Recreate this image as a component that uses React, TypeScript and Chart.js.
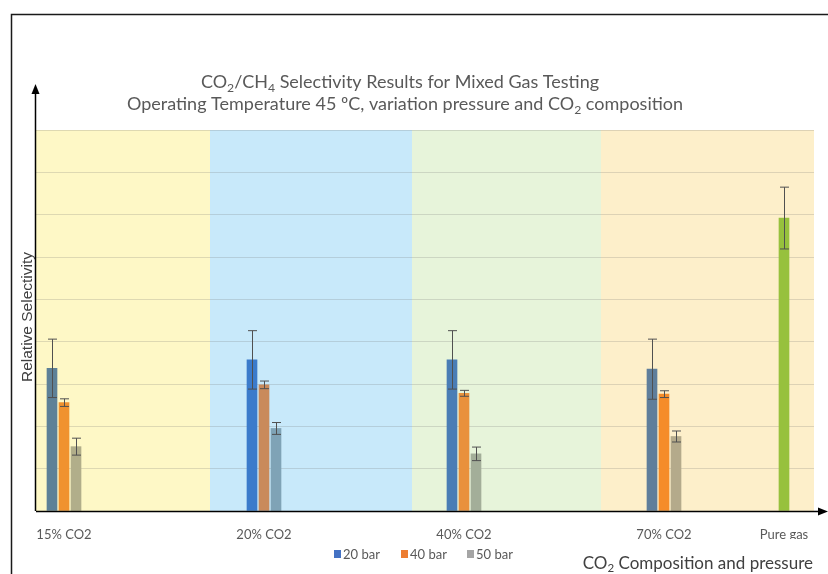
import React, { useEffect, useRef } from 'react';
import { Chart, registerables } from 'chart.js';

Chart.register(...registerables);

// ---------------- data ----------------
const categories = ['15% CO2', '20% CO2', '40% CO2', '70% CO2', 'Pure gas'];
const categoryX = [0, 2, 4, 6, 7.2];
const seriesLabels = ['20 bar', '40 bar', '50 bar'];
const bar20 = [3.37, 3.57, 3.57, 3.35, null];
const bar20Err = [0.69, 0.69, 0.69, 0.71, null];
const bar40 = [2.56, 2.98, 2.78, 2.76, null];
const bar40Err = [0.09, 0.09, 0.07, 0.08, null];
const bar50 = [1.52, 1.95, 1.35, 1.76, null];
const bar50Err = [0.2, 0.14, 0.16, 0.13, null];
const pureGas = [null, null, null, null, 6.92];
const pureGasErr = [null, null, null, null, 0.73];
const yMin = 0;
const yMax = 9;
const yStep = 1;
const bandEdges = [-0.28, 1.46, 3.48, 5.37, 7.5];

// ---------------- styles ----------------
const bandColors = ['#FEF8C6', '#C8E9FA', '#E7F4DA', '#FDEFCA'];
const colors20 = ['#5E8197', '#3B7BCB', '#4A7DB5', '#5F7E9B', '#4472C4'];
const colors40 = ['#F0922F', '#C98A5B', '#E9913C', '#F58C29', '#ED7D31'];
const colors50 = ['#B1AE8A', '#7FA3B6', '#A3AE99', '#B4AA8B', '#A5A5A5'];
const colorsPure = ['#97C13D', '#97C13D', '#97C13D', '#97C13D', '#97C13D'];
const legendColors = ['#4472C4', '#ED7D31', '#A5A5A5'];
const FONT = 'Lato, "Open Sans", sans-serif';
const TITLE_COLOR = '#595959';

type Seg = { t: string; sub?: boolean };

function drawRich(
  ctx: CanvasRenderingContext2D,
  segs: Seg[],
  x: number,
  y: number,
  size: number,
  color: string,
  align: 'center' | 'right' | 'left'
) {
  const subSize = size * 0.68;
  let total = 0;
  const widths = segs.map((s) => {
    ctx.font = `${s.sub ? subSize : size}px ${FONT}`;
    const w = ctx.measureText(s.t).width;
    total += w;
    return w;
  });
  let cx = align === 'center' ? x - total / 2 : align === 'right' ? x - total : x;
  ctx.fillStyle = color;
  ctx.textAlign = 'left';
  ctx.textBaseline = 'alphabetic';
  segs.forEach((s, i) => {
    ctx.font = `${s.sub ? subSize : size}px ${FONT}`;
    ctx.fillText(s.t, cx, s.sub ? y + size * 0.2 : y);
    cx += widths[i];
  });
}

const decorPlugin = {
  id: 'decor',
  beforeDraw(chart: any) {
    const { ctx, chartArea, scales } = chart;
    const x = scales.x;
    ctx.save();
    for (let i = 0; i < bandColors.length; i++) {
      const l = x.getPixelForValue(bandEdges[i]);
      const r = x.getPixelForValue(bandEdges[i + 1]);
      ctx.fillStyle = bandColors[i];
      ctx.fillRect(l, chartArea.top, r - l, chartArea.bottom - chartArea.top);
    }
    ctx.restore();
  },
  afterDatasetsDraw(chart: any) {
    const { ctx, scales } = chart;
    const y = scales.y;
    ctx.save();
    ctx.strokeStyle = '#505050';
    ctx.lineWidth = 1;
    chart.data.datasets.forEach((ds: any, di: number) => {
      const meta = chart.getDatasetMeta(di);
      meta.data.forEach((el: any, i: number) => {
        const v = ds.data[i].y;
        const e = ds.errors[i];
        if (v == null || e == null) return;
        const cx = Math.round(el.x) + 0.5;
        const top = y.getPixelForValue(v + e);
        const bot = y.getPixelForValue(v - e);
        ctx.beginPath();
        ctx.moveTo(cx, top);
        ctx.lineTo(cx, bot);
        ctx.moveTo(cx - 4.5, top);
        ctx.lineTo(cx + 4.5, top);
        ctx.moveTo(cx - 4.5, bot);
        ctx.lineTo(cx + 4.5, bot);
        ctx.stroke();
      });
    });
    ctx.restore();
  },
  afterDraw(chart: any) {
    const { ctx, chartArea } = chart;
    const { left, bottom } = chartArea;
    ctx.save();
    // frame
    ctx.strokeStyle = '#1a1a1a';
    ctx.lineWidth = 1.5;
    ctx.beginPath();
    ctx.moveTo(11.5, 574);
    ctx.lineTo(11.5, 14.5);
    ctx.lineTo(828, 14.5);
    ctx.stroke();
    // axes with arrows
    ctx.strokeStyle = '#000';
    ctx.fillStyle = '#000';
    ctx.lineWidth = 1.5;
    const ax = left - 0.5;
    ctx.beginPath();
    ctx.moveTo(ax, bottom);
    ctx.lineTo(ax, 92);
    ctx.stroke();
    ctx.beginPath();
    ctx.moveTo(ax, 84);
    ctx.lineTo(ax - 4, 94);
    ctx.lineTo(ax + 4, 94);
    ctx.closePath();
    ctx.fill();
    ctx.beginPath();
    ctx.moveTo(left, bottom + 0.5);
    ctx.lineTo(820, bottom + 0.5);
    ctx.stroke();
    ctx.beginPath();
    ctx.moveTo(828, bottom + 0.5);
    ctx.lineTo(818, bottom - 3.5);
    ctx.lineTo(818, bottom + 4.5);
    ctx.closePath();
    ctx.fill();

    // title
    drawRich(
      ctx,
      [{ t: 'CO' }, { t: '2', sub: true }, { t: '/CH' }, { t: '4', sub: true }, { t: ' Selectivity Results for Mixed Gas Testing' }],
      400,
      88,
      18,
      TITLE_COLOR,
      'center'
    );
    drawRich(
      ctx,
      [{ t: 'Operating Temperature 45 ºC, variation pressure and CO' }, { t: '2', sub: true }, { t: ' composition' }],
      405,
      110,
      18,
      TITLE_COLOR,
      'center'
    );

    // y axis title
    ctx.save();
    ctx.translate(32, 317);
    ctx.rotate(-Math.PI / 2);
    ctx.font = '15.5px "Liberation Sans", Arial, sans-serif';
    ctx.fillStyle = '#404040';
    ctx.textAlign = 'center';
    ctx.textBaseline = 'alphabetic';
    ctx.fillText('Relative Selectivity', 0, 0);
    ctx.restore();

    // x axis title
    drawRich(
      ctx,
      [{ t: 'CO' }, { t: '2', sub: true }, { t: ' Composition and pressure' }],
      813,
      569,
      17,
      '#404040',
      'right'
    );

    // legend
    const lx = [334, 401, 467];
    ctx.font = `13px ${FONT}`;
    ctx.textBaseline = 'middle';
    ctx.textAlign = 'left';
    chart.data.datasets.forEach((ds: any, i: number) => {
      if (!ds.inLegend) return;
      ctx.fillStyle = ds.legendColor;
      ctx.fillRect(lx[i], 550, 7, 8);
      ctx.fillStyle = TITLE_COLOR;
      ctx.fillText(ds.label, lx[i] + 9, 554.5);
    });
    ctx.restore();
  },
};

function makeData(values: (number | null)[]) {
  return categoryX.map((x, i) => ({ x, y: values[i] }));
}

export default function App() {
  const ref = useRef<HTMLCanvasElement>(null);
  useEffect(() => {
    const common = { barThickness: 12, maxBarThickness: 10, skipNull: true, grouped: true, borderWidth: 0 };
    const chart = new Chart(ref.current!, {
      type: 'bar',
      data: {
        datasets: [
          { ...common, label: seriesLabels[0], data: makeData(bar20), errors: bar20Err, backgroundColor: colors20, legendColor: legendColors[0], inLegend: true },
          { ...common, label: seriesLabels[1], data: makeData(bar40), errors: bar40Err, backgroundColor: colors40, legendColor: legendColors[1], inLegend: true },
          { ...common, label: seriesLabels[2], data: makeData(bar50), errors: bar50Err, backgroundColor: colors50, legendColor: legendColors[2], inLegend: true },
          { ...common, label: 'Pure gas', data: makeData(pureGas), errors: pureGasErr, backgroundColor: colorsPure, legendColor: colorsPure[4], inLegend: false },
        ] as any,
      },
      options: {
        animation: false,
        responsive: false,
        maintainAspectRatio: false,
        layout: { padding: { left: 36, top: 130, right: 14, bottom: 35 } },
        plugins: {
          legend: { display: false },
          title: { display: false },
          tooltip: { enabled: false },
        },
        scales: {
          x: {
            type: 'linear',
            offset: false,
            min: bandEdges[0],
            max: bandEdges[bandEdges.length - 1],
            grid: { display: false, drawTicks: false, offset: false },
            border: { display: false },
            afterBuildTicks: (s: any) => {
              s.ticks = categoryX.map((value) => ({ value }));
            },
            afterFit: (s: any) => {
              s.height = 28;
            },
            ticks: {
              autoSkip: false,
              maxRotation: 0,
              minRotation: 0,
              padding: 16,
              color: TITLE_COLOR,
              font: { family: FONT, size: 13 },
              callback: (_v: any, i: number) => categories[i],
            },
          },
          y: {
            min: yMin,
            max: yMax,
            ticks: { display: false, stepSize: yStep },
            grid: { color: 'rgba(110,110,110,0.22)', lineWidth: 1, drawTicks: false },
            border: { display: false },
          },
        },
      },
      plugins: [decorPlugin],
    } as any);
    return () => chart.destroy();
  }, []);
  return (
    <div style={{ position: 'absolute', left: 0, top: 0, width: 828, height: 574, background: '#fff' }}>
      <canvas ref={ref} width={828} height={574} style={{ display: 'block' }} />
    </div>
  );
}
